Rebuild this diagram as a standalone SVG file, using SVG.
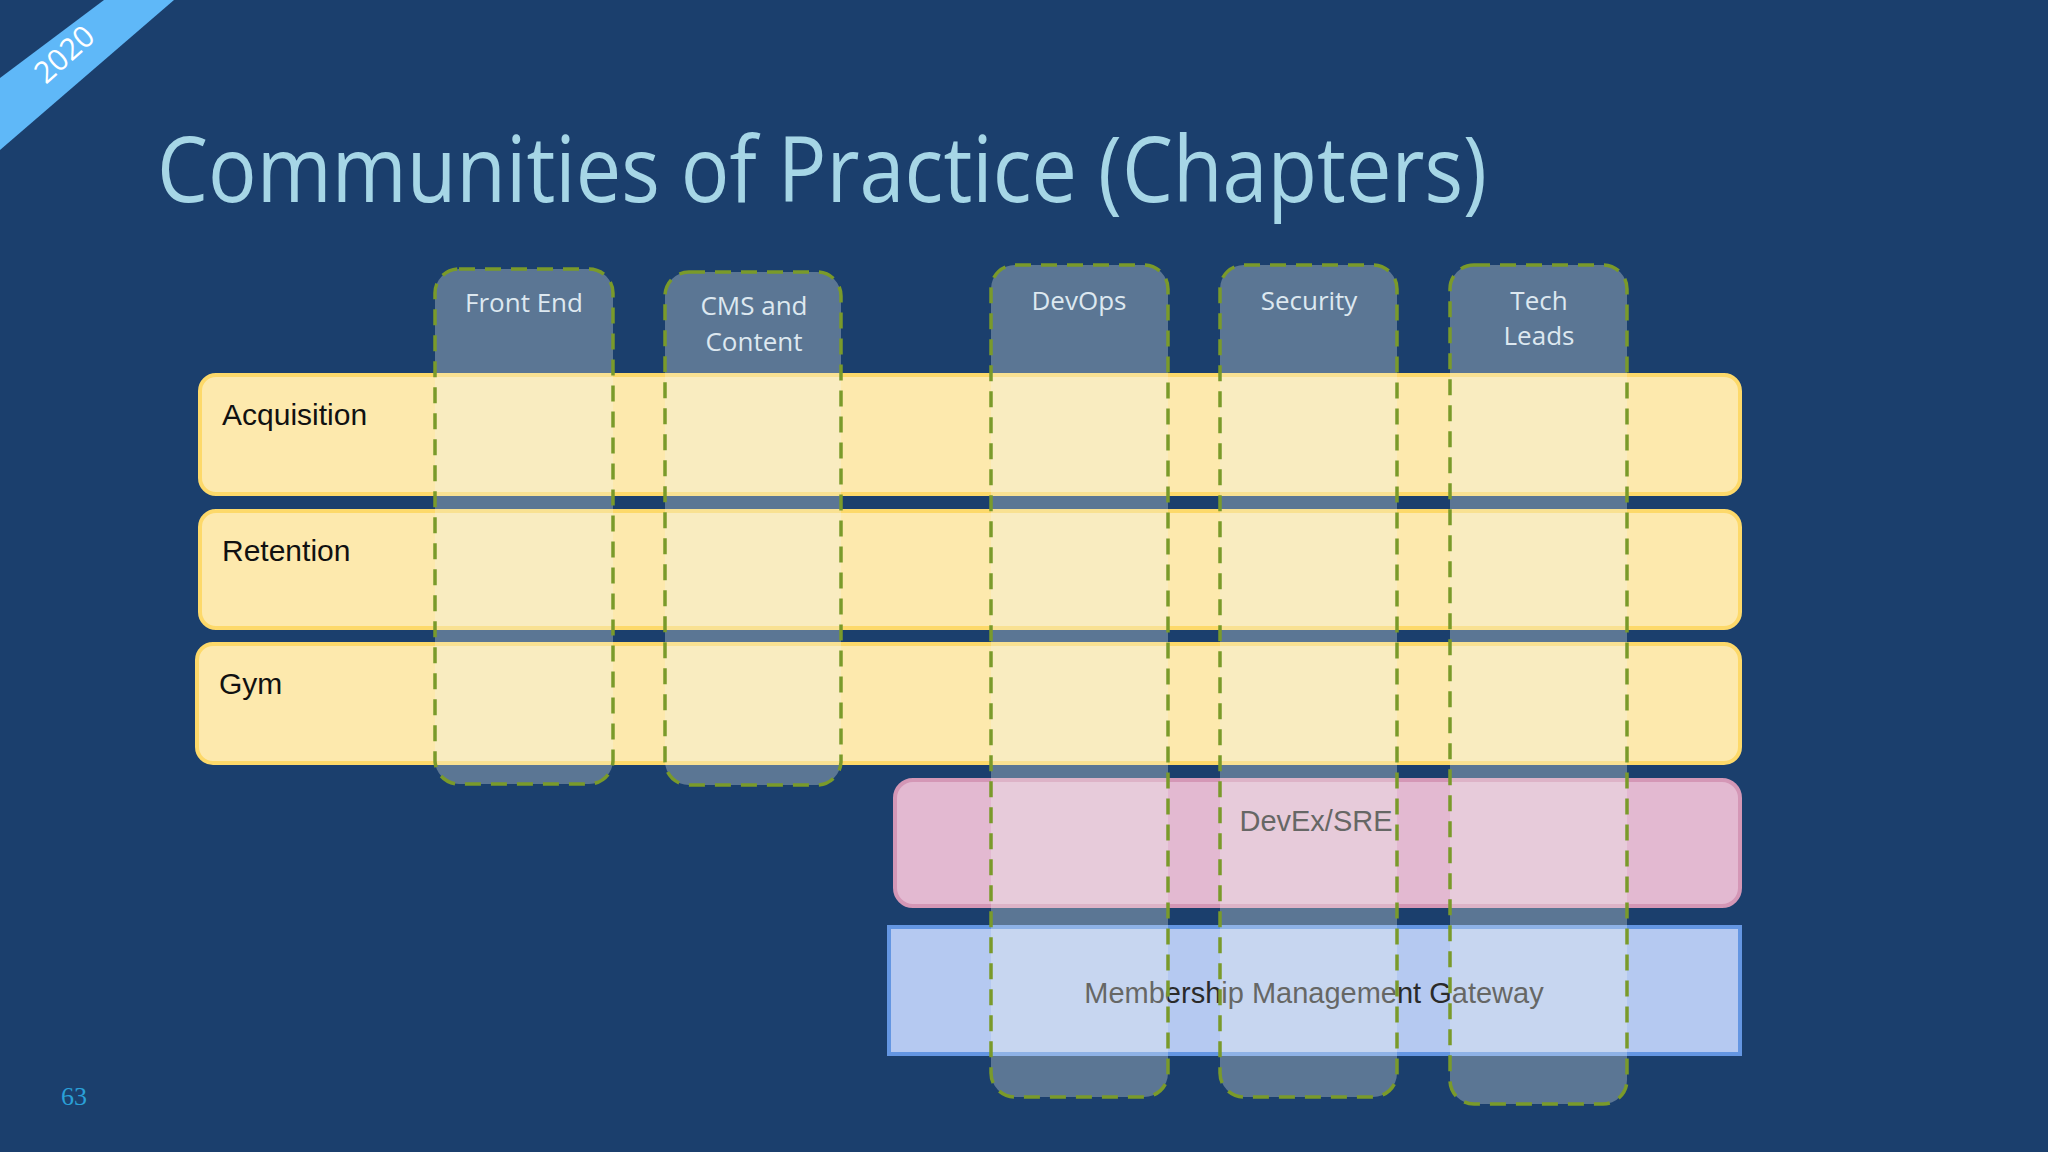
<svg xmlns="http://www.w3.org/2000/svg" width="2048" height="1152" viewBox="0 0 2048 1152">
<style>
.row{fill:#fde9ad;stroke:#fdd96a;stroke-width:4}
.rl{font-family:"Liberation Sans",Arial,sans-serif;font-size:30px;fill:#111}
.col{fill:#f2f4ee;fill-opacity:0.3;stroke:#7a9a2a;stroke-width:3.5;stroke-dasharray:16 10}
.cl{font-family:"Open Sans","Noto Sans",sans-serif;font-size:26px;fill:#dde8f0;text-anchor:middle}
.bl{font-family:"Liberation Sans",Arial,sans-serif;font-size:29px;fill:#2a2a2a;text-anchor:middle}
</style>
<rect width="2048" height="1152" fill="#1b3f6d"/>
<polygon points="0,78 104,0 174,0 0,150" fill="#5fb8f8"/>
<text x="0" y="0" transform="translate(66,56) rotate(-42)" font-family="Open Sans,sans-serif" font-size="30" fill="#ffffff" text-anchor="middle" dominant-baseline="middle">2020</text>
<text x="157" y="202" font-family="Open Sans,Noto Sans,sans-serif" font-size="92" fill="#a6d6e6" textLength="1330" lengthAdjust="spacingAndGlyphs">Communities of Practice (Chapters)</text>
<g id="acquisition"><rect class="row" x="200" y="375" width="1540" height="119" rx="16"/><text class="rl" x="222" y="425">Acquisition</text></g>
<g id="retention"><rect class="row" x="200" y="511" width="1540" height="117" rx="16"/><text class="rl" x="222" y="561">Retention</text></g>
<g id="gym"><rect class="row" x="197" y="644" width="1543" height="119" rx="16"/><text class="rl" x="219" y="694">Gym</text></g>
<g id="devex"><rect x="895" y="780" width="845" height="126" rx="18" fill="#e3b9d1" stroke="#d497b6" stroke-width="4"/><text class="bl" x="1316" y="831">DevEx/SRE</text></g>
<g id="mmg"><rect x="889" y="927" width="851" height="127" fill="#b5c9f1" stroke="#6496e2" stroke-width="4"/><text class="bl" x="1314" y="1003">Membership Management Gateway</text></g>
<g id="frontend"><rect class="col" x="435" y="269" width="178" height="515" rx="24"/><text class="cl" x="524" y="312">Front End</text></g>
<g id="cms"><rect class="col" x="665" y="272" width="176" height="513" rx="24"/><text class="cl" x="754" y="315">CMS and</text><text class="cl" x="754" y="351">Content</text></g>
<g id="devops"><rect class="col" x="991" y="265" width="177" height="832" rx="24"/><text class="cl" x="1079" y="310">DevOps</text></g>
<g id="security"><rect class="col" x="1220" y="265" width="177" height="832" rx="24"/><text class="cl" x="1309" y="310">Security</text></g>
<g id="techleads"><rect class="col" x="1450" y="265" width="177" height="839" rx="24"/><text class="cl" x="1539" y="310">Tech</text><text class="cl" x="1539" y="345">Leads</text></g>
<g id="connectors"></g>
<text x="61" y="1105" font-family="Liberation Serif,serif" font-size="26" fill="#2aa0d8">63</text>
</svg>
